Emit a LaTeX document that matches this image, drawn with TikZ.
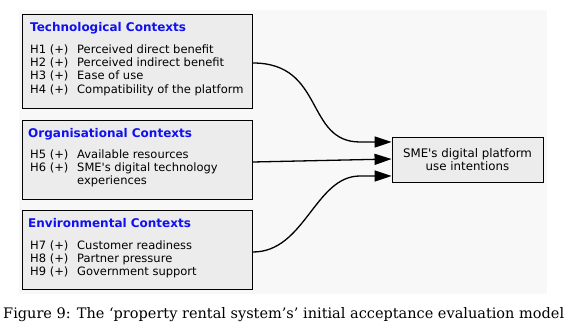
\documentclass[tikz,border=0pt]{standalone}
\usepackage{fontspec}
\newfontfamily\boxfont{DejaVu Sans}
\newfontfamily\capfont{DejaVu Serif}
\usetikzlibrary{arrows.meta}
\definecolor{bgc}{HTML}{F8F8F8}
\definecolor{boxc}{HTML}{ECECEC}
\definecolor{titc}{HTML}{1010F0}
\tikzset{
  ctxbox/.style={draw=black, line width=0.9pt, fill=boxc, minimum width=230pt, anchor=north west, inner sep=0pt},
  tgtbox/.style={draw=black, line width=0.9pt, fill=boxc, minimum width=151pt, minimum height=45pt, inner sep=0pt, align=center, font=\boxfont\fontsize{11.8}{13}\selectfont},
  ttl/.style={anchor=base west, inner sep=0pt, text=titc, font=\boxfont\bfseries\fontsize{12}{13}\selectfont},
  hyp/.style={anchor=base west, inner sep=0pt, font=\boxfont\fontsize{11.5}{13}\selectfont},
  conn/.style={line width=1.3pt, -{Triangle[length=17pt,width=11pt]}},
}
\begin{document}
\begin{tikzpicture}[x=1pt,y=-1pt]
\useasboundingbox (0,0) rectangle (576,336);
\fill[bgc] (19,10) rectangle (547,294);
% boxes
\node[ctxbox, minimum height=94pt] (tech) at (22,14) {};
\node[ctxbox, minimum height=79pt] (org) at (22,120) {};
\node[ctxbox, minimum height=79pt] (env) at (22,210) {};
\node[tgtbox] (tgt) at (467.5,159.5) {SME's digital platform\\use intentions};
% tech text
\node[ttl] (t0) at (30,32) {Technological Contexts};
\node[hyp] (t1a) at (30,54) {H1 (+)}; \node[hyp] (t1b) at (77,54) {Perceived direct benefit};
\node[hyp] (t2a) at (30,67) {H2 (+)}; \node[hyp] (t2b) at (77,67) {Perceived indirect benefit};
\node[hyp] (t3a) at (30,80) {H3 (+)}; \node[hyp] (t3b) at (77,80) {Ease of use};
\node[hyp] (t4a) at (30,94) {H4 (+)}; \node[hyp] (t4b) at (77,94) {Compatibility of the platform};
% org text
\node[ttl] (o0) at (28,138) {Organisational Contexts};
\node[hyp] (o1a) at (30,159) {H5 (+)}; \node[hyp] (o1b) at (77,159) {Available resources};
\node[hyp] (o2a) at (30,172) {H6 (+)}; \node[hyp] (o2b) at (77,172) {SME's digital technology};
\node[hyp] (o3b) at (77,185) {experiences};
% env text
\node[ttl] (e0) at (28,228) {Environmental Contexts};
\node[hyp] (e1a) at (30,250) {H7 (+)}; \node[hyp] (e1b) at (77,250) {Customer readiness};
\node[hyp] (e2a) at (30,263) {H8 (+)}; \node[hyp] (e2b) at (77,263) {Partner pressure};
\node[hyp] (e3a) at (30,276) {H9 (+)}; \node[hyp] (e3b) at (77,276) {Government support};
% connectors
\draw[conn] (tech.east |- 0,63) .. controls (325,63) and (305,142) .. (360,142) -- (tgt.west |- 0,142);
\draw[conn] (org.east |- 0,162) -- (tgt.west |- 0,159);
\draw[conn] (env.east |- 0,252) .. controls (305,252) and (315,176) .. (360,176) -- (tgt.west |- 0,176);
% caption
\node[anchor=base west, inner sep=0pt, font=\capfont\fontsize{14.5}{17}\selectfont] (cap) at (3,319) {Figure 9: The ‘property rental system’s’ initial acceptance evaluation model};
\end{tikzpicture}
\end{document}
